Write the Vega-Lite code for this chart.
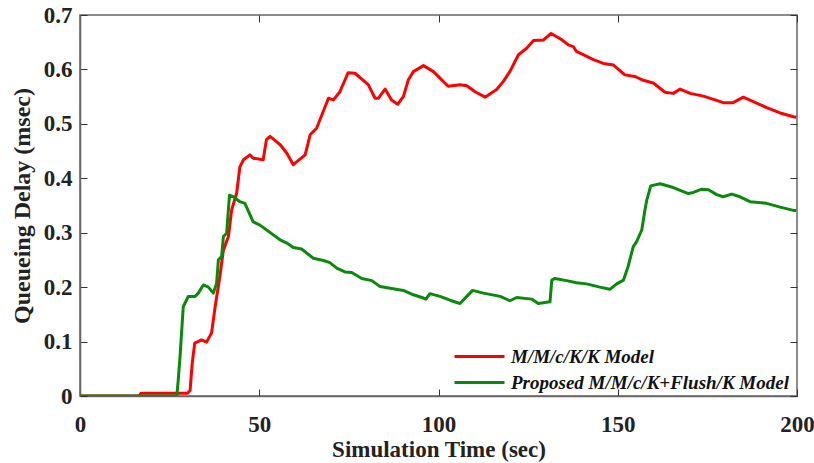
{
  "$schema": "https://vega.github.io/schema/vega-lite/v6.json",
  "width": 717,
  "height": 381,
  "autosize": {"type": "none"},
  "padding": {"left": 80, "top": 15, "right": 17, "bottom": 67},
  "background": "white",
  "config": {
    "view": {"stroke": "#666666", "strokeWidth": 1.5},
    "font": "Liberation Serif",
    "axis": {
      "grid": false,
      "domainColor": "#666666",
      "domainWidth": 1.5,
      "tickColor": "#333333",
      "tickWidth": 1,
      "labelFont": "Liberation Serif",
      "labelFontWeight": "bold",
      "labelFontSize": 23,
      "labelColor": "#222222",
      "titleFont": "Liberation Serif",
      "titleFontWeight": "bold",
      "titleColor": "#222222"
    }
  },
  "datasets": {
    "series": [
      {"t": 0, "d": 0, "s": "M/M/c/K/K Model"},
      {"t": 16.5, "d": 0, "s": "M/M/c/K/K Model"},
      {"t": 17, "d": 0.005, "s": "M/M/c/K/K Model"},
      {"t": 30, "d": 0.005, "s": "M/M/c/K/K Model"},
      {"t": 30.7, "d": 0.01, "s": "M/M/c/K/K Model"},
      {"t": 31.3, "d": 0.06, "s": "M/M/c/K/K Model"},
      {"t": 32, "d": 0.097, "s": "M/M/c/K/K Model"},
      {"t": 33.9, "d": 0.103, "s": "M/M/c/K/K Model"},
      {"t": 35.3, "d": 0.099, "s": "M/M/c/K/K Model"},
      {"t": 36.7, "d": 0.116, "s": "M/M/c/K/K Model"},
      {"t": 37.7, "d": 0.164, "s": "M/M/c/K/K Model"},
      {"t": 39, "d": 0.219, "s": "M/M/c/K/K Model"},
      {"t": 40, "d": 0.268, "s": "M/M/c/K/K Model"},
      {"t": 41.4, "d": 0.293, "s": "M/M/c/K/K Model"},
      {"t": 42.3, "d": 0.342, "s": "M/M/c/K/K Model"},
      {"t": 43.7, "d": 0.373, "s": "M/M/c/K/K Model"},
      {"t": 44.6, "d": 0.421, "s": "M/M/c/K/K Model"},
      {"t": 45.6, "d": 0.434, "s": "M/M/c/K/K Model"},
      {"t": 47.4, "d": 0.443, "s": "M/M/c/K/K Model"},
      {"t": 48.3, "d": 0.437, "s": "M/M/c/K/K Model"},
      {"t": 51.1, "d": 0.434, "s": "M/M/c/K/K Model"},
      {"t": 52, "d": 0.471, "s": "M/M/c/K/K Model"},
      {"t": 53, "d": 0.477, "s": "M/M/c/K/K Model"},
      {"t": 55.8, "d": 0.462, "s": "M/M/c/K/K Model"},
      {"t": 57.7, "d": 0.446, "s": "M/M/c/K/K Model"},
      {"t": 59.5, "d": 0.425, "s": "M/M/c/K/K Model"},
      {"t": 62.8, "d": 0.443, "s": "M/M/c/K/K Model"},
      {"t": 64.2, "d": 0.48, "s": "M/M/c/K/K Model"},
      {"t": 66, "d": 0.492, "s": "M/M/c/K/K Model"},
      {"t": 69.3, "d": 0.547, "s": "M/M/c/K/K Model"},
      {"t": 70.7, "d": 0.544, "s": "M/M/c/K/K Model"},
      {"t": 72.5, "d": 0.559, "s": "M/M/c/K/K Model"},
      {"t": 74.8, "d": 0.594, "s": "M/M/c/K/K Model"},
      {"t": 76.7, "d": 0.593, "s": "M/M/c/K/K Model"},
      {"t": 80.4, "d": 0.572, "s": "M/M/c/K/K Model"},
      {"t": 82.3, "d": 0.547, "s": "M/M/c/K/K Model"},
      {"t": 83.2, "d": 0.547, "s": "M/M/c/K/K Model"},
      {"t": 85.1, "d": 0.564, "s": "M/M/c/K/K Model"},
      {"t": 86.9, "d": 0.544, "s": "M/M/c/K/K Model"},
      {"t": 88.6, "d": 0.536, "s": "M/M/c/K/K Model"},
      {"t": 90.2, "d": 0.55, "s": "M/M/c/K/K Model"},
      {"t": 91.6, "d": 0.581, "s": "M/M/c/K/K Model"},
      {"t": 93, "d": 0.596, "s": "M/M/c/K/K Model"},
      {"t": 95.8, "d": 0.607, "s": "M/M/c/K/K Model"},
      {"t": 98.6, "d": 0.596, "s": "M/M/c/K/K Model"},
      {"t": 100.4, "d": 0.584, "s": "M/M/c/K/K Model"},
      {"t": 102.7, "d": 0.569, "s": "M/M/c/K/K Model"},
      {"t": 106, "d": 0.572, "s": "M/M/c/K/K Model"},
      {"t": 107.9, "d": 0.57, "s": "M/M/c/K/K Model"},
      {"t": 110.2, "d": 0.559, "s": "M/M/c/K/K Model"},
      {"t": 113, "d": 0.549, "s": "M/M/c/K/K Model"},
      {"t": 116.2, "d": 0.563, "s": "M/M/c/K/K Model"},
      {"t": 118.1, "d": 0.578, "s": "M/M/c/K/K Model"},
      {"t": 119.9, "d": 0.596, "s": "M/M/c/K/K Model"},
      {"t": 122.3, "d": 0.627, "s": "M/M/c/K/K Model"},
      {"t": 124.6, "d": 0.639, "s": "M/M/c/K/K Model"},
      {"t": 126.5, "d": 0.653, "s": "M/M/c/K/K Model"},
      {"t": 129.2, "d": 0.654, "s": "M/M/c/K/K Model"},
      {"t": 131.4, "d": 0.666, "s": "M/M/c/K/K Model"},
      {"t": 134.3, "d": 0.655, "s": "M/M/c/K/K Model"},
      {"t": 136.2, "d": 0.645, "s": "M/M/c/K/K Model"},
      {"t": 137.6, "d": 0.642, "s": "M/M/c/K/K Model"},
      {"t": 138.5, "d": 0.633, "s": "M/M/c/K/K Model"},
      {"t": 143.2, "d": 0.618, "s": "M/M/c/K/K Model"},
      {"t": 146, "d": 0.611, "s": "M/M/c/K/K Model"},
      {"t": 148.8, "d": 0.608, "s": "M/M/c/K/K Model"},
      {"t": 152, "d": 0.59, "s": "M/M/c/K/K Model"},
      {"t": 154.8, "d": 0.587, "s": "M/M/c/K/K Model"},
      {"t": 157.1, "d": 0.58, "s": "M/M/c/K/K Model"},
      {"t": 159.9, "d": 0.575, "s": "M/M/c/K/K Model"},
      {"t": 163.2, "d": 0.558, "s": "M/M/c/K/K Model"},
      {"t": 165.5, "d": 0.556, "s": "M/M/c/K/K Model"},
      {"t": 167.4, "d": 0.564, "s": "M/M/c/K/K Model"},
      {"t": 170.2, "d": 0.556, "s": "M/M/c/K/K Model"},
      {"t": 173.9, "d": 0.551, "s": "M/M/c/K/K Model"},
      {"t": 176.7, "d": 0.545, "s": "M/M/c/K/K Model"},
      {"t": 179.4, "d": 0.539, "s": "M/M/c/K/K Model"},
      {"t": 182.2, "d": 0.539, "s": "M/M/c/K/K Model"},
      {"t": 185, "d": 0.549, "s": "M/M/c/K/K Model"},
      {"t": 187.8, "d": 0.541, "s": "M/M/c/K/K Model"},
      {"t": 191.5, "d": 0.53, "s": "M/M/c/K/K Model"},
      {"t": 195.3, "d": 0.52, "s": "M/M/c/K/K Model"},
      {"t": 199, "d": 0.513, "s": "M/M/c/K/K Model"},
      {"t": 199.8, "d": 0.512, "s": "M/M/c/K/K Model"},
      {"t": 0, "d": 0, "s": "Proposed M/M/c/K+Flush/K Model"},
      {"t": 27, "d": 0, "s": "Proposed M/M/c/K+Flush/K Model"},
      {"t": 27.4, "d": 0.029, "s": "Proposed M/M/c/K+Flush/K Model"},
      {"t": 27.9, "d": 0.072, "s": "Proposed M/M/c/K+Flush/K Model"},
      {"t": 28.8, "d": 0.164, "s": "Proposed M/M/c/K+Flush/K Model"},
      {"t": 30.2, "d": 0.183, "s": "Proposed M/M/c/K+Flush/K Model"},
      {"t": 32.1, "d": 0.183, "s": "Proposed M/M/c/K+Flush/K Model"},
      {"t": 33, "d": 0.189, "s": "Proposed M/M/c/K+Flush/K Model"},
      {"t": 34.4, "d": 0.204, "s": "Proposed M/M/c/K+Flush/K Model"},
      {"t": 35.8, "d": 0.2, "s": "Proposed M/M/c/K+Flush/K Model"},
      {"t": 37.2, "d": 0.189, "s": "Proposed M/M/c/K+Flush/K Model"},
      {"t": 38.1, "d": 0.207, "s": "Proposed M/M/c/K+Flush/K Model"},
      {"t": 38.6, "d": 0.25, "s": "Proposed M/M/c/K+Flush/K Model"},
      {"t": 39.5, "d": 0.256, "s": "Proposed M/M/c/K+Flush/K Model"},
      {"t": 40, "d": 0.293, "s": "Proposed M/M/c/K+Flush/K Model"},
      {"t": 40.9, "d": 0.299, "s": "Proposed M/M/c/K+Flush/K Model"},
      {"t": 41.7, "d": 0.369, "s": "Proposed M/M/c/K+Flush/K Model"},
      {"t": 42.8, "d": 0.366, "s": "Proposed M/M/c/K+Flush/K Model"},
      {"t": 44.6, "d": 0.357, "s": "Proposed M/M/c/K+Flush/K Model"},
      {"t": 46, "d": 0.354, "s": "Proposed M/M/c/K+Flush/K Model"},
      {"t": 48.3, "d": 0.32, "s": "Proposed M/M/c/K+Flush/K Model"},
      {"t": 50.2, "d": 0.314, "s": "Proposed M/M/c/K+Flush/K Model"},
      {"t": 55.8, "d": 0.287, "s": "Proposed M/M/c/K+Flush/K Model"},
      {"t": 57.7, "d": 0.281, "s": "Proposed M/M/c/K+Flush/K Model"},
      {"t": 59.5, "d": 0.273, "s": "Proposed M/M/c/K+Flush/K Model"},
      {"t": 61.8, "d": 0.27, "s": "Proposed M/M/c/K+Flush/K Model"},
      {"t": 65.1, "d": 0.253, "s": "Proposed M/M/c/K+Flush/K Model"},
      {"t": 67.9, "d": 0.249, "s": "Proposed M/M/c/K+Flush/K Model"},
      {"t": 69.7, "d": 0.245, "s": "Proposed M/M/c/K+Flush/K Model"},
      {"t": 71.6, "d": 0.235, "s": "Proposed M/M/c/K+Flush/K Model"},
      {"t": 73.9, "d": 0.228, "s": "Proposed M/M/c/K+Flush/K Model"},
      {"t": 75.8, "d": 0.227, "s": "Proposed M/M/c/K+Flush/K Model"},
      {"t": 78.6, "d": 0.216, "s": "Proposed M/M/c/K+Flush/K Model"},
      {"t": 81.4, "d": 0.212, "s": "Proposed M/M/c/K+Flush/K Model"},
      {"t": 83.7, "d": 0.201, "s": "Proposed M/M/c/K+Flush/K Model"},
      {"t": 86.5, "d": 0.198, "s": "Proposed M/M/c/K+Flush/K Model"},
      {"t": 90.2, "d": 0.194, "s": "Proposed M/M/c/K+Flush/K Model"},
      {"t": 93, "d": 0.186, "s": "Proposed M/M/c/K+Flush/K Model"},
      {"t": 95.8, "d": 0.18, "s": "Proposed M/M/c/K+Flush/K Model"},
      {"t": 96.5, "d": 0.178, "s": "Proposed M/M/c/K+Flush/K Model"},
      {"t": 97.6, "d": 0.188, "s": "Proposed M/M/c/K+Flush/K Model"},
      {"t": 100.4, "d": 0.183, "s": "Proposed M/M/c/K+Flush/K Model"},
      {"t": 103.2, "d": 0.176, "s": "Proposed M/M/c/K+Flush/K Model"},
      {"t": 106, "d": 0.17, "s": "Proposed M/M/c/K+Flush/K Model"},
      {"t": 107.9, "d": 0.183, "s": "Proposed M/M/c/K+Flush/K Model"},
      {"t": 109.5, "d": 0.194, "s": "Proposed M/M/c/K+Flush/K Model"},
      {"t": 112.5, "d": 0.189, "s": "Proposed M/M/c/K+Flush/K Model"},
      {"t": 117.2, "d": 0.183, "s": "Proposed M/M/c/K+Flush/K Model"},
      {"t": 119.9, "d": 0.175, "s": "Proposed M/M/c/K+Flush/K Model"},
      {"t": 121.8, "d": 0.181, "s": "Proposed M/M/c/K+Flush/K Model"},
      {"t": 126, "d": 0.178, "s": "Proposed M/M/c/K+Flush/K Model"},
      {"t": 127.8, "d": 0.17, "s": "Proposed M/M/c/K+Flush/K Model"},
      {"t": 131.1, "d": 0.173, "s": "Proposed M/M/c/K+Flush/K Model"},
      {"t": 131.6, "d": 0.213, "s": "Proposed M/M/c/K+Flush/K Model"},
      {"t": 132.5, "d": 0.216, "s": "Proposed M/M/c/K+Flush/K Model"},
      {"t": 135.7, "d": 0.212, "s": "Proposed M/M/c/K+Flush/K Model"},
      {"t": 138.5, "d": 0.208, "s": "Proposed M/M/c/K+Flush/K Model"},
      {"t": 141.3, "d": 0.206, "s": "Proposed M/M/c/K+Flush/K Model"},
      {"t": 145, "d": 0.2, "s": "Proposed M/M/c/K+Flush/K Model"},
      {"t": 147.8, "d": 0.196, "s": "Proposed M/M/c/K+Flush/K Model"},
      {"t": 149.7, "d": 0.206, "s": "Proposed M/M/c/K+Flush/K Model"},
      {"t": 151.6, "d": 0.213, "s": "Proposed M/M/c/K+Flush/K Model"},
      {"t": 152.9, "d": 0.238, "s": "Proposed M/M/c/K+Flush/K Model"},
      {"t": 154.3, "d": 0.274, "s": "Proposed M/M/c/K+Flush/K Model"},
      {"t": 155.3, "d": 0.284, "s": "Proposed M/M/c/K+Flush/K Model"},
      {"t": 156.7, "d": 0.305, "s": "Proposed M/M/c/K+Flush/K Model"},
      {"t": 157.6, "d": 0.342, "s": "Proposed M/M/c/K+Flush/K Model"},
      {"t": 158.1, "d": 0.36, "s": "Proposed M/M/c/K+Flush/K Model"},
      {"t": 159.2, "d": 0.386, "s": "Proposed M/M/c/K+Flush/K Model"},
      {"t": 161.8, "d": 0.39, "s": "Proposed M/M/c/K+Flush/K Model"},
      {"t": 165.5, "d": 0.383, "s": "Proposed M/M/c/K+Flush/K Model"},
      {"t": 169.7, "d": 0.372, "s": "Proposed M/M/c/K+Flush/K Model"},
      {"t": 171.1, "d": 0.374, "s": "Proposed M/M/c/K+Flush/K Model"},
      {"t": 173.4, "d": 0.38, "s": "Proposed M/M/c/K+Flush/K Model"},
      {"t": 175.3, "d": 0.379, "s": "Proposed M/M/c/K+Flush/K Model"},
      {"t": 177.6, "d": 0.37, "s": "Proposed M/M/c/K+Flush/K Model"},
      {"t": 179.4, "d": 0.366, "s": "Proposed M/M/c/K+Flush/K Model"},
      {"t": 181.8, "d": 0.371, "s": "Proposed M/M/c/K+Flush/K Model"},
      {"t": 184.1, "d": 0.366, "s": "Proposed M/M/c/K+Flush/K Model"},
      {"t": 186.9, "d": 0.357, "s": "Proposed M/M/c/K+Flush/K Model"},
      {"t": 191.5, "d": 0.354, "s": "Proposed M/M/c/K+Flush/K Model"},
      {"t": 195.3, "d": 0.347, "s": "Proposed M/M/c/K+Flush/K Model"},
      {"t": 199, "d": 0.341, "s": "Proposed M/M/c/K+Flush/K Model"},
      {"t": 199.8, "d": 0.341, "s": "Proposed M/M/c/K+Flush/K Model"}
    ]
  },
  "data": {"name": "series"},
  "layer": [
    {
      "mark": {"type": "line", "strokeWidth": 3, "strokeJoin": "round", "clip": true},
      "encoding": {
        "x": {
          "field": "t", "type": "quantitative",
          "scale": {"domain": [0, 200], "nice": false, "zero": false},
          "axis": {
            "orient": "bottom",
            "title": "Simulation Time (sec)",
            "titleFontSize": 23,
            "titlePadding": 2,
            "values": [0, 50, 100, 150, 200],
            "format": "d",
            "tickSize": -7,
            "labelPadding": 24,
            "labelFlush": false,
            "labelOverlap": false
          }
        },
        "y": {
          "field": "d", "type": "quantitative",
          "scale": {"domain": [0, 0.7], "nice": false, "zero": true},
          "axis": {
            "orient": "left",
            "title": "Queueing Delay (msec)",
            "titleFontSize": 24,
            "titlePadding": 9,
            "values": [0, 0.1, 0.2, 0.3, 0.4, 0.5, 0.6, 0.7],
            "format": ".1~f",
            "tickSize": -7,
            "labelPadding": 15,
            "labelFlush": false,
            "labelOverlap": false
          }
        },
        "color": {
          "field": "s", "type": "nominal",
          "scale": {
            "domain": ["M/M/c/K/K Model", "Proposed M/M/c/K+Flush/K Model"],
            "range": ["#ff0000", "#0a8a0a"]
          },
          "legend": {
            "title": null,
            "orient": "none",
            "legendX": 384,
            "legendY": 326,
            "padding": 4,
            "symbolType": "M-2.5,0H2.5",
            "symbolSize": 400,
            "symbolStrokeWidth": 3,
            "labelFont": "Liberation Serif",
            "labelFontStyle": "italic",
            "labelFontWeight": "bold",
            "labelFontSize": 19,
            "labelColor": "#111111",
            "labelOffset": 20,
            "labelLimit": 400,
            "rowPadding": 4
          }
        }
      }
    },
    {
      "mark": {"type": "line", "strokeOpacity": 0},
      "encoding": {
        "x": {
          "field": "t", "type": "quantitative",
          "axis": {
            "orient": "top", "title": null, "labels": false, "domain": false,
            "values": [0, 50, 100, 150, 200], "tickSize": -7
          }
        },
        "y": {
          "field": "d", "type": "quantitative",
          "axis": {
            "orient": "right", "title": null, "labels": false, "domain": false,
            "values": [0, 0.1, 0.2, 0.3, 0.4, 0.5, 0.6, 0.7], "tickSize": -7
          }
        }
      }
    }
  ],
  "resolve": {"axis": {"x": "independent", "y": "independent"}}
}
